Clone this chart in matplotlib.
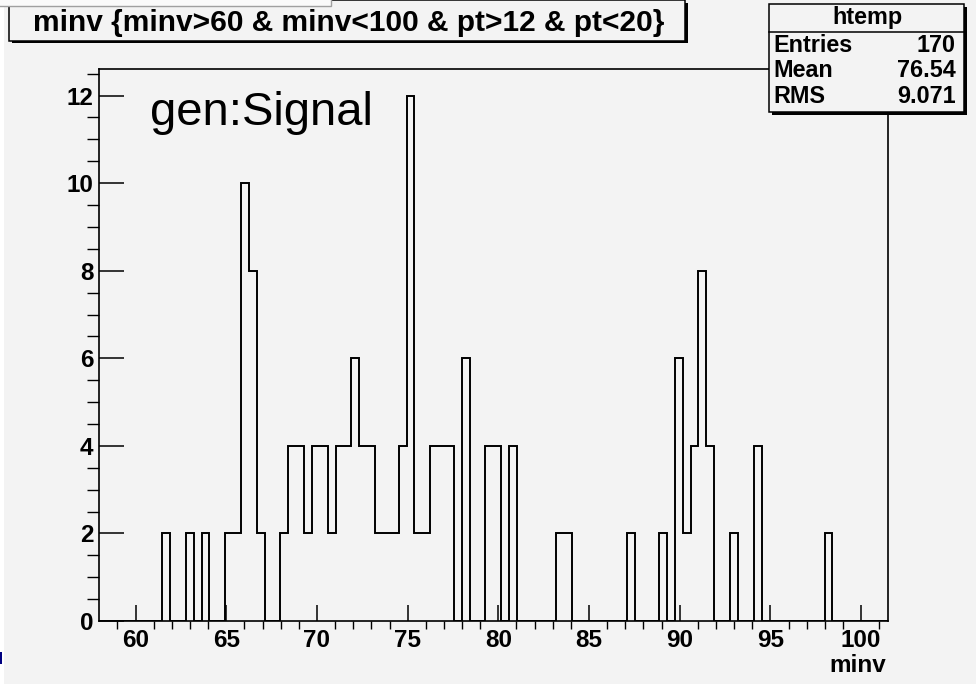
import numpy as np
import matplotlib
matplotlib.use("Agg")
import matplotlib.pyplot as plt
from matplotlib.patches import Rectangle

# -------------------------------
# DATA (100 bins)
# -------------------------------
x_low = 57.98
x_high = 101.47
n_bins = 100

filled_bins = [8, 11, 13, 16, 17, 18, 19, 20, 23, 24, 25, 26, 27, 28, 29, 30,
               31, 32, 33, 34, 35, 36, 37, 38, 39, 40, 41, 42, 43, 44, 46, 49,
               50, 52, 58, 59, 67, 71, 73, 74, 75, 76, 77, 80, 83, 92]
bin_counts = [2, 2, 2, 2, 2, 10, 8, 2, 2, 4, 4, 2, 4, 4, 2, 4,
              4, 6, 4, 4, 2, 2, 2, 4, 12, 2, 2, 4, 4, 4, 6, 4,
              4, 4, 2, 2, 2, 2, 6, 2, 4, 8, 4, 2, 4, 2]

x_ticks = [60, 65, 70, 75, 80, 85, 90, 95, 100]
y_ticks = [0, 2, 4, 6, 8, 10, 12]

title = "minv {minv>60 & minv<100 & pt>12 & pt<20}"
stats_name = "htemp"
stats_rows = [("Entries", "170"), ("Mean", "76.54"), ("RMS", "9.071")]

# -------------------------------
# FIGURE
# -------------------------------
W, H = 976, 684
bg = "#f3f3f3"
font = "Liberation Sans"

fig = plt.figure(figsize=(W / 100, H / 100), dpi=100, facecolor=bg)


def fx(px):
    return px / W


def fy(py):
    return 1 - py / H


def fig_box(x0, y0, x1, y1, **kw):
    r = Rectangle((fx(x0), fy(y1)), fx(x1) - fx(x0), fy(y0) - fy(y1),
                  transform=fig.transFigure, **kw)
    fig.add_artist(r)
    return r


# frame: left 99, right 887.7, top 69.3, bottom 621 (pixels)
ax = fig.add_axes([fx(99), fy(621), fx(887.7) - fx(99), fy(69.3) - fy(621)])
ax.set_facecolor(bg)

edges = np.linspace(x_low, x_high, n_bins + 1)
counts = np.zeros(n_bins)
counts[filled_bins] = bin_counts

ax.stairs(counts, edges, color="black", linewidth=1.4)

ax.set_xlim(x_low, x_high)
ax.set_ylim(0, 12.6)
ax.set_xticks(x_ticks)
ax.set_xticks(np.arange(59, 102, 1), minor=True)
ax.set_yticks(y_ticks)
ax.set_yticks(np.arange(0, 12.6, 0.5), minor=True)

for s in ax.spines.values():
    s.set_linewidth(1.2)

ax.tick_params(axis="both", direction="in", top=False, right=False, width=1.1)
ax.tick_params(axis="x", which="major", length=11.5, pad=6)
ax.tick_params(axis="x", which="minor", length=5.8, width=1.0)
ax.tick_params(axis="y", which="major", length=18, pad=4)
ax.tick_params(axis="y", which="minor", length=8.6, width=1.0)
for lab in ax.get_xticklabels() + ax.get_yticklabels():
    lab.set_fontfamily(font)
    lab.set_fontweight("bold")
    lab.set_fontsize(17.5)

# axis title at the right end
fig.text(fx(886), fy(666), "minv", ha="right", va="center",
         fontfamily=font, fontweight="bold", fontsize=17.5)

# -------------------------------
# DECORATIONS (ROOT pave boxes)
# -------------------------------
fig_box(0, 0, 4, H, facecolor="white", edgecolor="none", zorder=1)
fig_box(0, 652, 1.5, 664, facecolor="#000080", edgecolor="none", zorder=2)

# title pave with shadow
fig_box(12, 3, 688, 43, facecolor="black", edgecolor="none", zorder=3)
fig_box(9, 0, 685, 40.7, facecolor=bg, edgecolor="black", linewidth=1.1, zorder=4)
fig.text(fx(33), fy(30.7), title, ha="left", va="baseline",
         fontfamily=font, fontweight="bold", fontsize=21.5, zorder=5)

# leftover pave at the very top left
fig_box(-2, -2, 331, 6, facecolor="#fafafa", edgecolor="#a0a0a0",
        linewidth=1.0, zorder=6)

# stats box with shadow
fig_box(772, 7, 967, 114.5, facecolor="black", edgecolor="none", zorder=3)
fig_box(769, 4, 964, 111.7, facecolor=bg, edgecolor="black", linewidth=1.1, zorder=4)
fig.add_artist(plt.Line2D([fx(769), fx(964)], [fy(31.7), fy(31.7)],
                          transform=fig.transFigure, color="black",
                          linewidth=1.1, zorder=5))
fig.text(fx(867), fy(17.5), stats_name, ha="center", va="center",
         fontfamily=font, fontweight="bold", fontsize=16.8, zorder=6)
row_y = [45, 70.7, 96.7]
for (name, val), yy in zip(stats_rows, row_y):
    fig.text(fx(773), fy(yy), name, ha="left", va="center",
             fontfamily=font, fontweight="bold", fontsize=16.8, zorder=6)
    fig.text(fx(956), fy(yy), val, ha="right", va="center",
             fontfamily=font, fontweight="bold", fontsize=16.8, zorder=6)

# in-pad label
ax.text(fx(150), fy(125), "gen:Signal", transform=fig.transFigure,
        ha="left", va="baseline", fontfamily=font, fontsize=34)

fig.savefig("out.png", dpi=100, facecolor=bg)
